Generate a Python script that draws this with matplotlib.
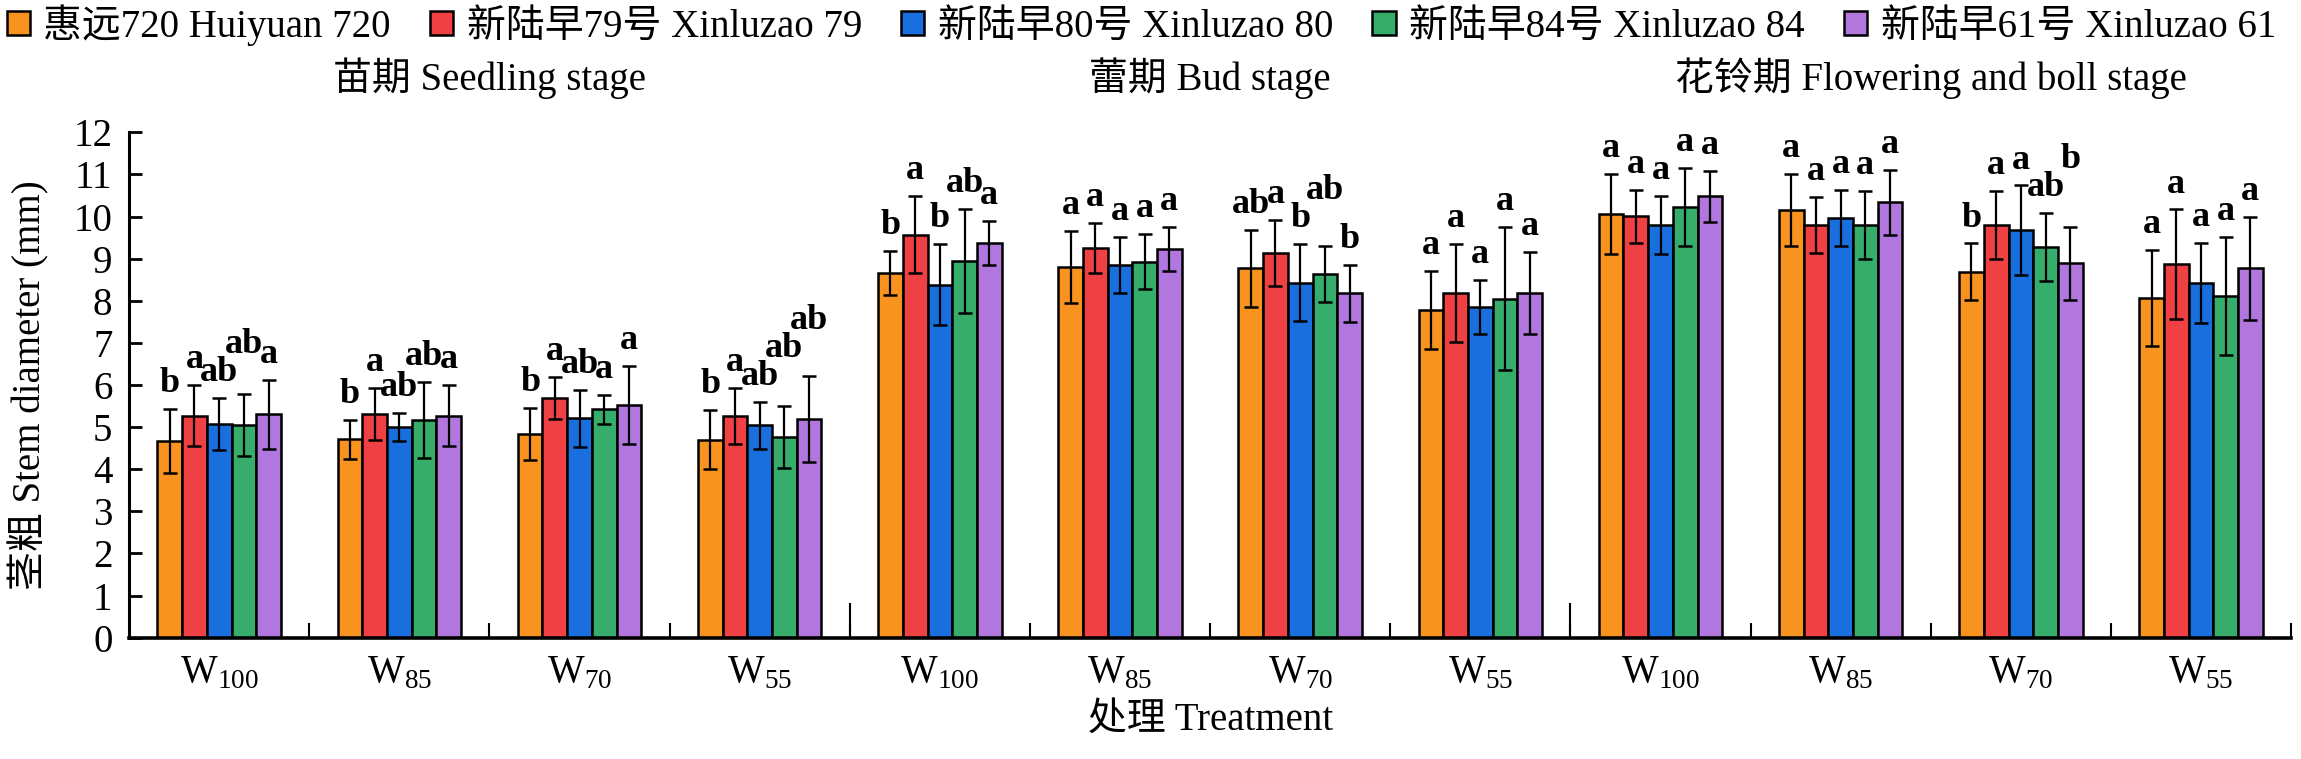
import numpy as np
import matplotlib
matplotlib.use("Agg")
import matplotlib.pyplot as plt
import matplotlib.transforms as mtransforms
from matplotlib.patches import Patch

plt.rcParams["font.family"] = ["Liberation Serif", "Noto Sans CJK SC"]
plt.rcParams["mathtext.fontset"] = "custom"
plt.rcParams["mathtext.rm"] = "Liberation Serif"
plt.rcParams["font.size"] = 28

stages = ["苗期 Seedling stage", "蕾期 Bud stage", "花铃期 Flowering and boll stage"]
treatments = [r"W$_\mathregular{100}$", r"W$_\mathregular{85}$",
              r"W$_\mathregular{70}$", r"W$_\mathregular{55}$"]
cultivars = ["惠远720 Huiyuan 720", "新陆早79号 Xinluzao 79", "新陆早80号 Xinluzao 80",
             "新陆早84号 Xinluzao 84", "新陆早61号 Xinluzao 61"]
colors = ["#F7931E", "#EF4043", "#1A6FDF", "#37AD6B", "#B177DE"]

# stem diameter (mm), 12 groups = 3 stages x 4 treatments
huiyuan_720 = [4.67, 4.71, 4.84, 4.70, 8.66, 8.80, 8.77, 7.78, 10.06, 10.16, 8.69, 8.06]
xinluzao_79 = [5.27, 5.31, 5.69, 5.27, 9.57, 9.25, 9.13, 8.18, 10.01, 9.80, 9.80, 8.87]
xinluzao_80 = [5.08, 5.00, 5.21, 5.04, 8.38, 8.85, 8.43, 7.86, 9.80, 9.96, 9.68, 8.43]
xinluzao_84 = [5.05, 5.17, 5.42, 4.77, 8.94, 8.93, 8.64, 8.05, 10.22, 9.80, 9.28, 8.12]
xinluzao_61 = [5.31, 5.27, 5.53, 5.19, 9.37, 9.23, 8.18, 8.18, 10.48, 10.34, 8.89, 8.77]

err_720 = [0.77, 0.46, 0.62, 0.70, 0.52, 0.85, 0.92, 0.92, 0.95, 0.86, 0.67, 1.14]
err_79 = [0.73, 0.62, 0.50, 0.66, 0.92, 0.60, 0.78, 1.16, 0.63, 0.66, 0.81, 1.30]
err_80 = [0.62, 0.34, 0.68, 0.56, 0.96, 0.66, 0.92, 0.64, 0.69, 0.67, 1.06, 0.95]
err_84 = [0.73, 0.90, 0.35, 0.73, 1.24, 0.66, 0.67, 1.70, 0.93, 0.81, 0.81, 1.40]
err_61 = [0.82, 0.73, 0.93, 1.02, 0.52, 0.53, 0.68, 0.98, 0.61, 0.77, 0.87, 1.22]

let_720 = ["b", "b", "b", "b", "b", "a", "ab", "a", "a", "a", "b", "a"]
let_79 = ["a", "a", "a", "a", "a", "a", "a", "a", "a", "a", "a", "a"]
let_80 = ["ab", "ab", "ab", "ab", "b", "a", "b", "a", "a", "a", "a", "a"]
let_84 = ["ab", "ab", "a", "ab", "ab", "a", "ab", "a", "a", "a", "ab", "a"]
let_61 = ["a", "a", "a", "ab", "a", "a", "b", "a", "a", "a", "b", "a"]

means = [huiyuan_720, xinluzao_79, xinluzao_80, xinluzao_84, xinluzao_61]
errors = [err_720, err_79, err_80, err_84, err_61]
letters = [let_720, let_79, let_80, let_84, let_61]

n_groups = len(stages) * len(treatments)
x = np.arange(n_groups)
width = 0.137
letter_size = 26

fig = plt.figure(figsize=(23.01, 7.59), dpi=100)
ax = fig.add_axes([0.0561, 0.1598, 0.9396, 0.6659])

for i, (vals, errs) in enumerate(zip(means, errors)):
    pos = x + (i - 2) * width
    ax.bar(pos, vals, width, color=colors[i], edgecolor="black", linewidth=1.8, zorder=2)
    ax.errorbar(pos, vals, yerr=errs, fmt="none", ecolor="black", elinewidth=1.6,
                capsize=5, capthick=1.8, zorder=3)

ax.set_xlim(-0.5, n_groups - 0.5)
ax.set_ylim(0, 12)
ax.set_yticks(range(0, 13))
ax.set_xticks(x)
ax.set_xticklabels(treatments * len(stages))
ax.set_xticks(np.arange(n_groups) + 0.5, minor=True)
ax.tick_params(axis="x", which="major", length=0, pad=12, labelsize=28)
ax.tick_params(axis="x", which="minor", direction="in", length=11, width=1.5)
ax.tick_params(axis="y", direction="in", length=9, width=2, pad=12, labelsize=28)

for spine in ["top", "right"]:
    ax.spines[spine].set_visible(False)
ax.spines["left"].set_linewidth(2.2)
ax.spines["bottom"].set_linewidth(2.6)

# longer marks between growth stages
for b in np.arange(1, len(stages)) * len(treatments) - 0.5:
    ax.axvline(b, ymin=0, ymax=0.067, color="black", linewidth=1.5)

# significance letters above error bars; a letter that would touch its
# neighbour is lifted just clear of it (glyph box, not full line box)
renderer = fig.canvas.get_renderer()
glyph_h = 0.72 * letter_size * fig.dpi / 72


def glyph_box(t):
    bb = t.get_window_extent(renderer)
    base = ax.transData.transform(t.get_position())[1]
    return (bb.x0 + 2, base, bb.x1 - 2, base + glyph_h)


def hits(a, b):
    return a[0] < b[2] and b[0] < a[2] and a[1] < b[3] and b[1] < a[3]


for g in range(n_groups):
    placed = []
    for i in range(len(cultivars)):
        px = x[g] + (i - 2) * width
        top = means[i][g] + errors[i][g]
        t = ax.text(px, top + 0.4, letters[i][g], ha="center", va="baseline",
                    fontsize=letter_size, fontweight="bold")
        box = glyph_box(t)
        moved = True
        while moved:
            moved = False
            for o in placed:
                if hits(box, o):
                    y_disp = o[3] + 2
                    t.set_y(ax.transData.inverted().transform((0, y_disp))[1])
                    box = glyph_box(t)
                    moved = True
        placed.append(box)

ax.set_ylabel("茎粗 Stem diameter (mm)", fontsize=28, va="center")
ax.yaxis.set_label_coords(-0.0463, 0.5)
ax.set_xlabel("处理 Treatment", fontsize=28, va="center")
ax.xaxis.set_label_coords(0.5, -0.163)

trans = mtransforms.blended_transform_factory(ax.transData, fig.transFigure)
for s, name in enumerate(stages):
    center = s * len(treatments) + (len(treatments) - 1) / 2
    ax.text(center, 0.897, name, transform=trans, ha="center", va="center", fontsize=28)

handles = [Patch(facecolor=c, edgecolor="black", linewidth=1.8) for c in colors]
fig.legend(handles, cultivars, loc="center", bbox_to_anchor=(0.496, 0.967), ncol=5,
           frameon=False, fontsize=28, handlelength=0.6, handleheight=0.55,
           handletextpad=0.35, columnspacing=1.0, borderpad=0, borderaxespad=0)

fig.savefig("out.png", dpi=100)
